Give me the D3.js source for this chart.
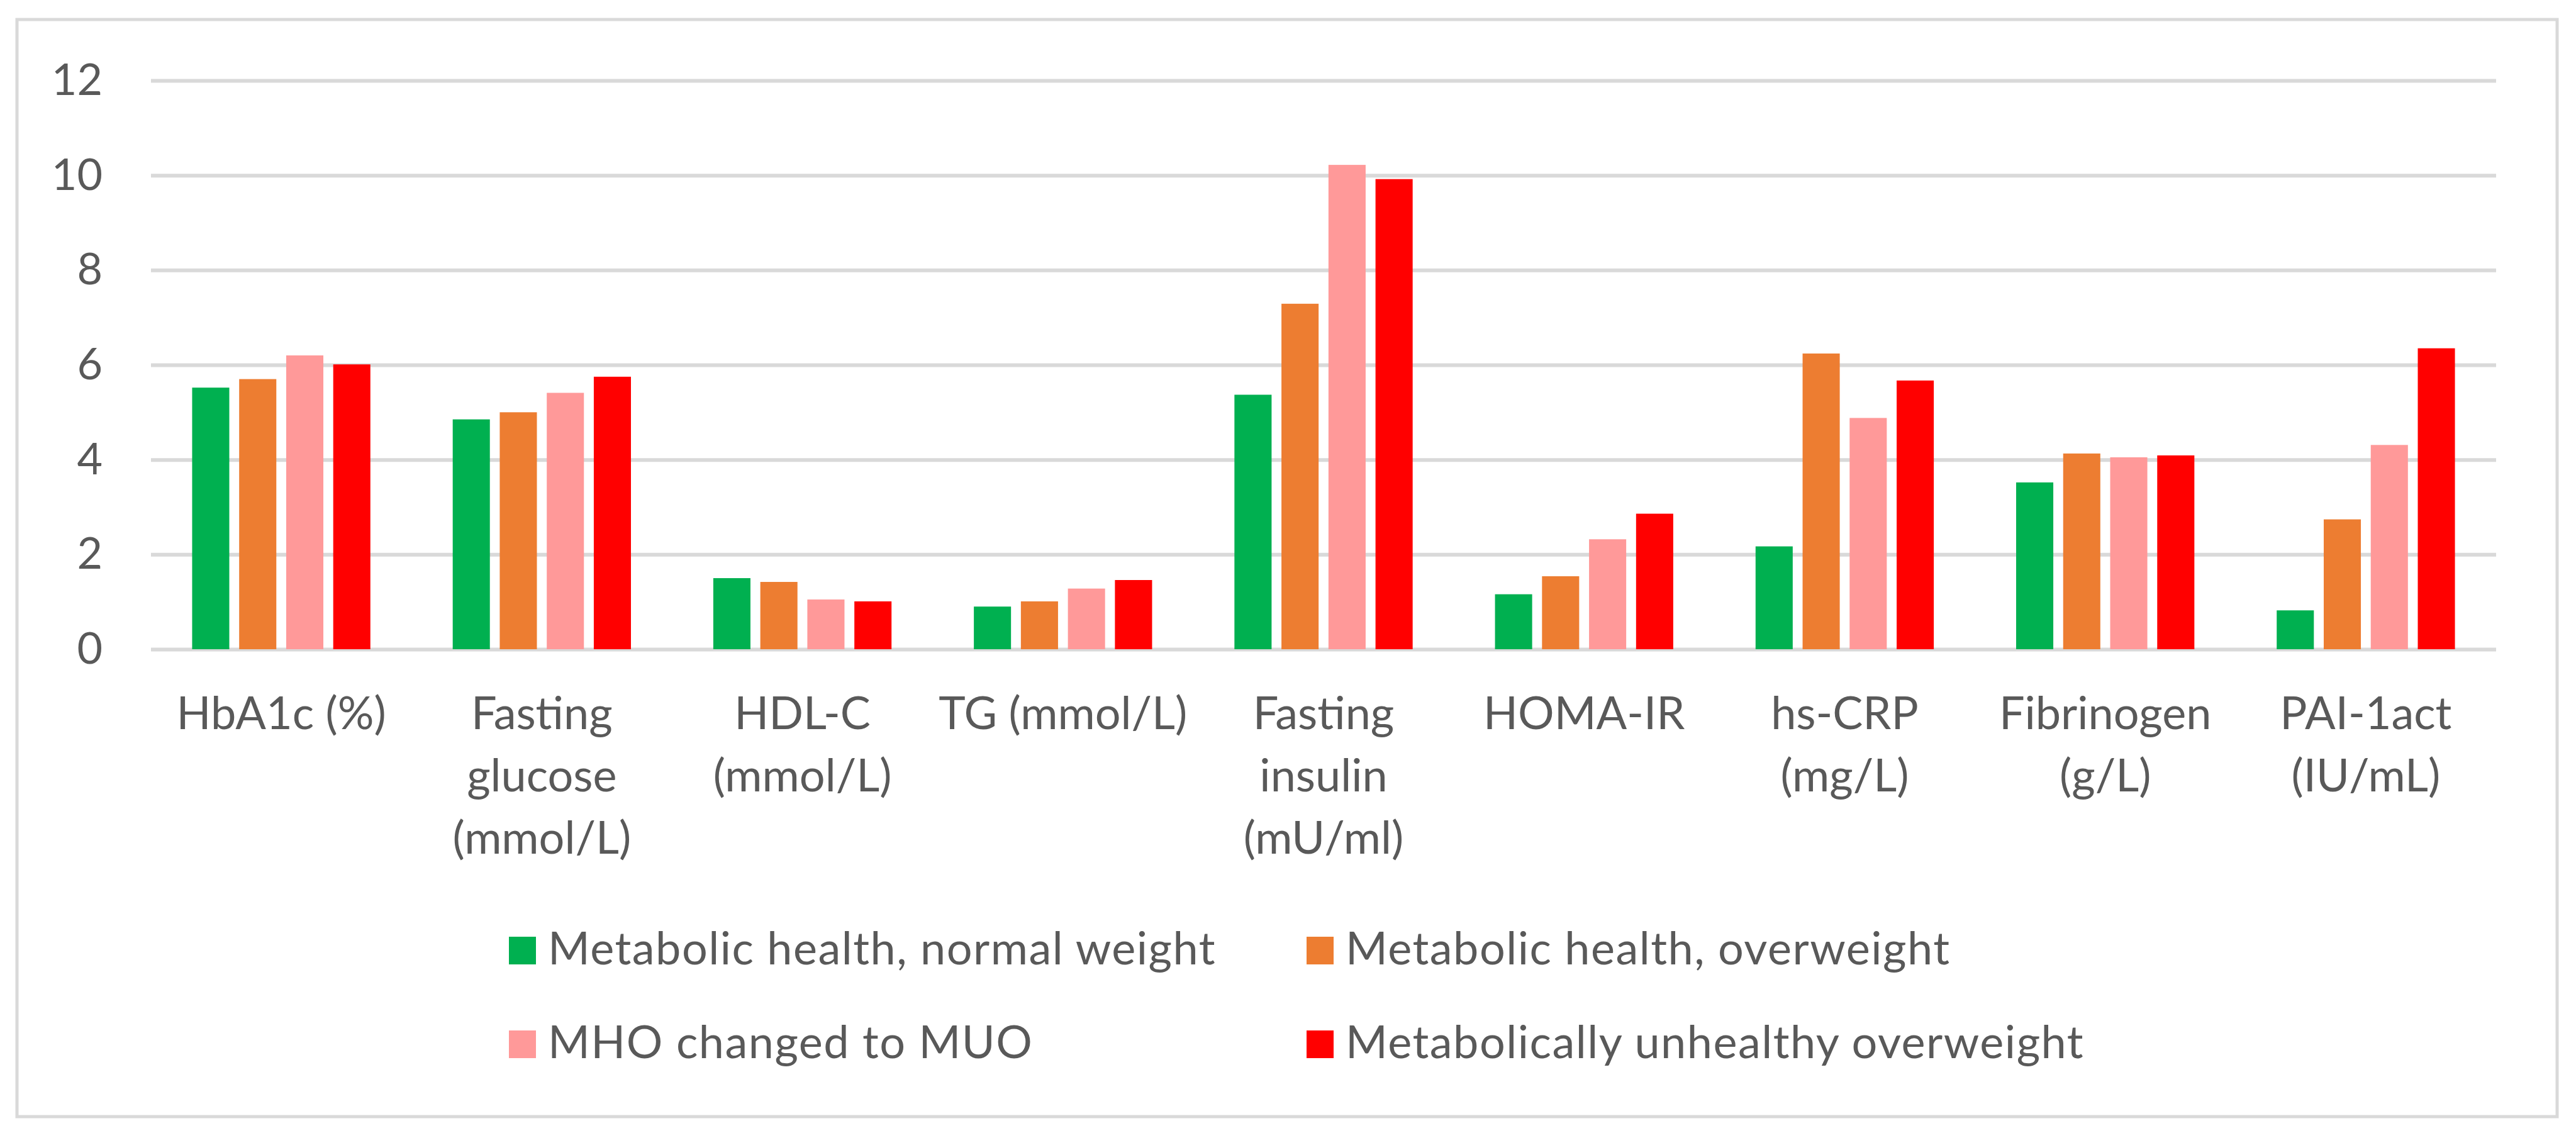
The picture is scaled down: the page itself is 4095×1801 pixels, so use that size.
<!DOCTYPE html>
<html>
<head>
<meta charset="utf-8">
<script src="https://cdn.jsdelivr.net/npm/d3@7/dist/d3.min.js"></script>
<style>
  body { margin: 0; background: #fff; }
  text { font-family: Lato, "Open Sans", sans-serif; fill: #595959; }
  .grid line { stroke: #d9d9d9; stroke-width: 6; }
  .grid text { font-size: 70px; }
  .legend text { letter-spacing: 1.5px; }
</style>
</head>
<body>
<div id="chart"></div>
<script>
var categories = [
  ["HbA1c (%)"],
  ["Fasting", "glucose", "(mmol/L)"],
  ["HDL-C", "(mmol/L)"],
  ["TG (mmol/L)"],
  ["Fasting", "insulin", "(mU/ml)"],
  ["HOMA-IR"],
  ["hs-CRP", "(mg/L)"],
  ["Fibrinogen", "(g/L)"],
  ["PAI-1act", "(IU/mL)"]
];
var seriesNames = [
  "Metabolic health, normal weight",
  "Metabolic health, overweight",
  "MHO changed to MUO",
  "Metabolically unhealthy overweight"
];
var seriesColors = ["#00b050", "#ed7d31", "#ff9999", "#ff0000"];

var normalWeight   = [5.52, 4.85, 1.50, 0.90, 5.37, 1.16, 2.17, 3.52, 0.82];
var healthyOver    = [5.70, 5.00, 1.42, 1.01, 7.29, 1.54, 6.24, 4.13, 2.74];
var mhoToMuo       = [6.20, 5.41, 1.05, 1.28, 10.22, 2.32, 4.88, 4.05, 4.31];
var unhealthyOver  = [6.01, 5.75, 1.01, 1.46, 9.92, 2.86, 5.67, 4.09, 6.35];
var seriesValues = [normalWeight, healthyOver, mhoToMuo, unhealthyOver];

var yTicks = [0, 2, 4, 6, 8, 10, 12];

function init() {
  var w = 4095, h = 1801;
  var left = 240, right = 3968, top = 128, bottom = 1032;

  var svg = d3.select("#chart").append("svg")
    .attr("width", w)
    .attr("height", h);

  // outer frame
  svg.append("rect")
    .attr("x", 27).attr("y", 31)
    .attr("width", 4038).attr("height", 1744)
    .attr("fill", "#fff")
    .attr("stroke", "#d9d9d9")
    .attr("stroke-width", 5);

  var x0 = d3.scaleBand()
    .domain(d3.range(categories.length))
    .range([left, right])
    .padding(0);

  var gap = x0.bandwidth() * 0.158;
  var x1 = d3.scaleBand()
    .domain(d3.range(seriesNames.length))
    .range([gap, x0.bandwidth() - gap])
    .paddingInner(0.21);

  var yScale = d3.scaleLinear()
    .domain([0, 12])
    .range([bottom, top]);

  var yAxis = d3.axisLeft(yScale)
    .tickValues(yTicks)
    .tickSize(-(right - left))
    .tickPadding(77);

  svg.append("g")
    .attr("class", "grid")
    .attr("transform", "translate(" + left + ",0)")
    .call(yAxis)
    .call(function(g) { g.select(".domain").remove(); });

  var groups = svg.selectAll("g.cat")
    .data(categories)
    .enter()
    .append("g")
    .attr("class", "cat")
    .attr("transform", function(d, i) { return "translate(" + x0(i) + ",0)"; });

  groups.selectAll("rect")
    .data(function(d, i) {
      return seriesValues.map(function(s, k) { return { k: k, v: s[i] }; });
    })
    .enter()
    .append("rect")
    .attr("x", function(d) { return x1(d.k); })
    .attr("width", x1.bandwidth())
    .attr("y", function(d) { return yScale(d.v); })
    .attr("height", function(d) { return yScale(0) - yScale(d.v); })
    .attr("fill", function(d) { return seriesColors[d.k]; });

  // category labels, wrapped like the original
  groups.append("text")
    .attr("text-anchor", "middle")
    .attr("font-size", 72)
    .selectAll("tspan")
    .data(function(d) { return d; })
    .enter()
    .append("tspan")
    .attr("x", x0.bandwidth() / 2)
    .attr("y", function(d, j) { return 1159 + j * 99; })
    .text(function(d) { return d; });

  // legend, 2 x 2
  var legend = svg.selectAll("g.legend")
    .data(seriesNames)
    .enter()
    .append("g")
    .attr("class", "legend")
    .attr("transform", function(d, i) {
      return "translate(" + (809 + (i % 2) * 1268) + "," + (1533 + Math.floor(i / 2) * 149) + ")";
    });

  legend.append("rect")
    .attr("x", 0).attr("y", -44)
    .attr("width", 43).attr("height", 44)
    .attr("fill", function(d, i) { return seriesColors[i]; });

  legend.append("text")
    .attr("x", 62)
    .attr("y", 0)
    .attr("font-size", 72)
    .text(function(d) { return d; });
}

window.onload = init;
</script>
</body>
</html>
